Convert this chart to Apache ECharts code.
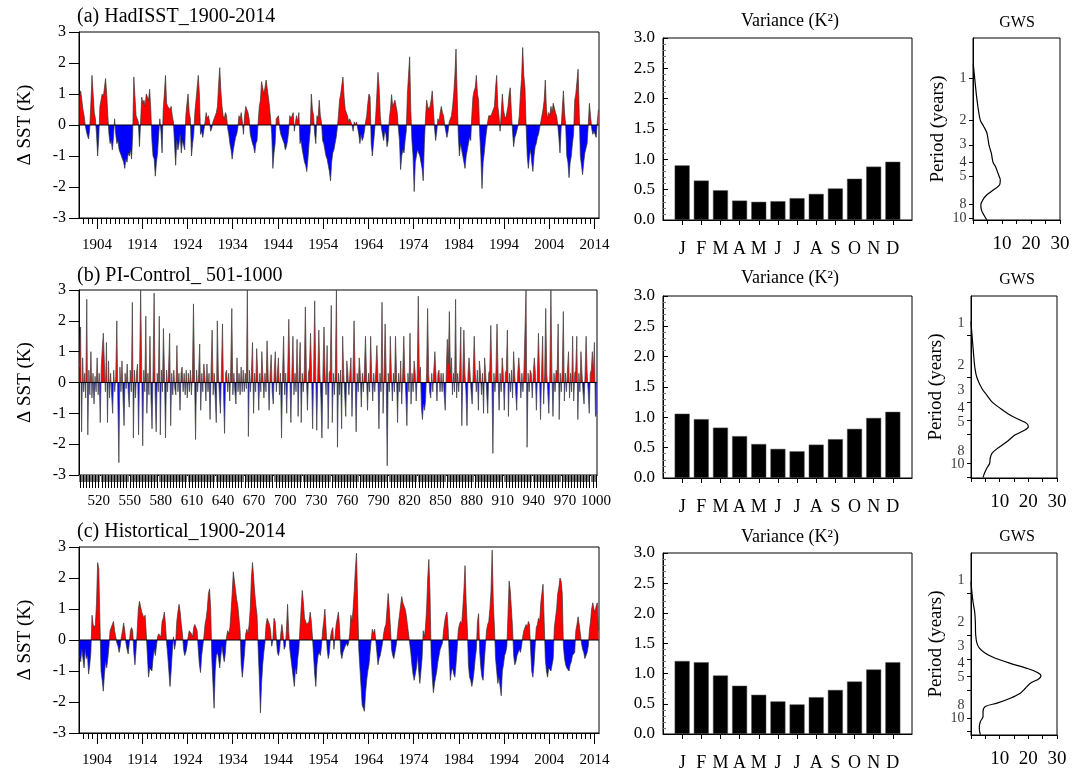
<!DOCTYPE html>
<html>
<head>
<meta charset="utf-8">
<title>SST variability</title>
<script src="https://cdn.jsdelivr.net/npm/echarts@6/dist/echarts.min.js"></script>
<style>
html, body { margin: 0; padding: 0; background: #fff; }
#chart { width: 1089px; height: 772px; }
</style>
</head>
<body>
<div id="chart"></div>
<script>
// ---------- data ----------
var months = ['J', 'F', 'M', 'A', 'M', 'J', 'J', 'A', 'S', 'O', 'N', 'D'];

// monthly variance (K^2)
var varHad  = [0.90, 0.65, 0.49, 0.32, 0.30, 0.31, 0.36, 0.43, 0.52, 0.68, 0.88, 0.96];
var varPi   = [1.06, 0.97, 0.83, 0.69, 0.56, 0.48, 0.44, 0.55, 0.64, 0.81, 0.99, 1.09];
var varHist = [1.21, 1.19, 0.97, 0.80, 0.65, 0.54, 0.49, 0.61, 0.73, 0.87, 1.07, 1.19];

// global wavelet spectrum: period (years) / power
var gwsHadPeriod = [0.8, 1.0, 1.43, 2.0, 2.21, 2.47, 3.0, 3.43, 4.0, 4.27, 4.9, 5.32, 5.78, 6.28, 6.81, 7.4, 8.03, 8.72, 9.46, 10.3];
var gwsHadPower  = [0.1, 0.57, 1.37, 2.5, 3.66, 4.8, 5.5, 6.3, 6.9, 7.7, 8.8, 9.4, 9.2, 7.1, 4.8, 3.4, 2.7, 2.9, 3.7, 4.8];
var gwsPiPeriod  = [0.8, 1.0, 1.38, 1.72, 2.0, 2.38, 2.65, 2.96, 3.29, 3.67, 3.98, 4.2, 4.44, 4.68, 5.08, 5.66, 6.31, 6.84, 7.4, 8.05, 8.7, 9.45, 10.1];
var gwsPiPower   = [0, 0.35, 0.92, 1.38, 2.08, 3.8, 5.5, 7.3, 10.2, 13.6, 17.1, 19.4, 20.0, 18.8, 15.3, 12.5, 9.2, 7.3, 6.7, 6.5, 5.5, 4.7, 4.2];
var gwsHistPeriod = [0.82, 1.0, 1.15, 1.36, 1.6, 2.0, 2.3, 2.5, 2.71, 2.95, 3.21, 3.49, 3.72, 3.94, 4.16, 4.47, 4.86, 5.28, 5.74, 6.23, 6.59, 7.16, 7.79, 8.46, 9.2, 10.0, 10.5];
var gwsHistPower  = [0, 0.35, 0.7, 1.28, 1.51, 1.63, 2.1, 3.0, 5.0, 8.5, 13.7, 19.5, 23.0, 24.4, 23.6, 20.7, 19.0, 17.2, 13.7, 9.1, 5.0, 4.2, 4.2, 3.3, 2.9, 3.0, 3.3];

// SST anomaly (K), 4 values a year from 1900 (HadISST, historical)
var sstHad = [
  0.9,1.1,0.8,0.5, 0.3,0.0,-0.2,-0.35, -0.45,-0.1,0.7,1.6, 1.0,0.4,0.2,-0.3, -1.0,-0.4,0.6,0.8,
  1.0,0.9,1.2,1.5, 1.0,0.3,-0.3,-0.6, -0.5,-0.8,-0.4,0.2, -0.3,-0.6,-0.5,-0.8, -0.9,-1.0,-1.1,-1.2,
  -1.4,-1.1,-1.2,-0.9, -1.0,-0.8,-1.1,-0.3, 1.55,0.9,0.3,0.2, 0.1,-0.7,0.1,0.9, 0.7,0.8,0.6,1.0,
  0.9,0.8,1.15,0.5, -0.5,-1.0,-1.1,-1.65, -1.2,-0.9,-0.3,0.2, -0.2,-0.9,0.5,1.0, 1.6,0.7,0.6,0.6,
  0.5,0.6,0.3,0.1, -0.6,-1.3,-0.5,-0.8, -0.6,-0.3,-0.9,-0.5, -0.5,-0.8,0.3,0.7, 1.0,0.4,0.2,-1.0,
  -0.6,-0.3,0.4,0.8, 1.2,1.6,1.0,-0.3, -0.2,-0.4,-0.4,0.1, 0.4,0.2,0.3,0.1, -0.2,-0.1,0.1,0.2,
  0.3,0.4,0.6,1.3, 1.85,1.1,0.6,0.3, 0.2,0.4,0.3,-0.1, -0.3,-0.6,-0.8,-1.1, -0.8,-0.6,-0.4,-0.3,
  -0.1,0.3,0.2,0.4, 0.1,-0.3,0.3,0.6, 0.6,0.4,0.2,-0.3, -0.3,-0.6,-0.7,-0.9, -0.6,-0.5,0.1,0.6,
  0.8,1.4,1.2,1.0, 1.2,1.45,1.4,0.9, 0.6,0.2,-0.3,-1.4, -0.9,-0.6,0.2,0.2, 0.3,-0.1,-0.3,-0.4,
  -0.5,-0.6,-0.8,-0.7, -0.5,-0.2,0.3,0.2, 0.3,0.4,-0.2,0.1, 0.3,0.1,0.4,-0.6, -0.5,-0.8,-1.0,-1.2,
  -1.3,-1.5,-1.1,-0.6, -0.2,1.0,0.5,0.3, -0.3,-0.6,0.3,0.2, 0.8,0.3,0.1,-0.5, -0.6,-0.8,-1.0,-1.1,
  -1.3,-1.5,-1.8,-1.2, -0.9,-0.8,-0.6,-0.4, -0.1,0.3,0.8,1.0, 1.0,1.55,0.9,0.5, 0.5,0.3,0.1,0.2,
  0.2,0.0,-0.2,0.1, 0.0,0.1,-0.1,-0.3, -0.6,-0.3,-0.5,-0.4, -0.2,0.1,0.3,0.7, 1.0,0.9,-0.6,-1.0,
  -0.6,-0.2,0.3,1.0, 1.7,1.2,0.3,-0.1, -0.3,-0.5,-0.2,-0.3, -0.7,-0.5,0.2,0.5, 0.98,0.6,0.6,0.8,
  0.6,0.4,-0.1,-0.5, -1.44,-1.0,-0.8,-0.9, -0.5,-0.2,1.0,1.6, 2.2,0.5,-0.5,-1.0, -2.15,-1.2,-1.0,-0.8,
  -0.8,-1.0,-1.2,-1.4, -1.8,-0.6,0.2,0.8, 0.6,0.5,0.6,0.8, 1.1,0.5,-0.1,-0.5, -0.2,0.2,0.1,0.4,
  0.6,0.4,0.3,0.0, -0.2,-0.4,-0.2,0.1, 0.1,0.3,0.6,1.0, 1.6,2.45,1.0,-0.3, -1.0,-0.6,-0.8,-1.0,
  -1.2,-1.4,-1.0,-0.8, -0.6,-0.4,-0.5,0.3, 0.9,1.1,1.2,1.6, 1.0,0.8,-0.3,-1.0, -2.05,-1.2,-0.9,-0.5,
  -0.2,0.1,0.3,0.3, 0.3,0.4,0.5,0.6, 1.2,1.6,0.6,0.3, -0.2,0.4,1.0,0.5, 0.3,0.2,0.4,0.6,
  1.0,1.2,0.4,-0.2, -0.7,-0.4,-0.3,-0.3, 0.0,0.3,1.0,1.5, 2.5,1.6,1.2,0.0, -1.0,-1.4,-1.0,-0.8,
  -1.2,-1.5,-1.0,-0.7, -0.6,-0.4,-0.3,-0.1, 0.1,0.3,0.5,0.8, 1.45,0.5,0.2,0.4, 0.3,0.6,0.4,0.7,
  0.76,0.4,0.3,0.0, -0.4,-0.9,-0.1,0.5, 1.1,0.4,0.0,-1.0, -1.2,-1.7,-1.2,-1.0, -0.6,-0.3,0.8,1.0,
  1.4,1.8,0.4,-1.0, -1.0,-1.6,-1.2,-0.9, -0.9,-0.6,0.0,0.7, 0.3,-0.1,-0.3,-0.2, -0.2,-0.4,0.1,0.5
];

var sstHist = [
  -0.5,-0.7,-0.3,-0.6, -0.9,-0.3,-0.6,-0.5, -1.1,-0.8,-0.4,0.8, 0.5,0.4,0.5,1.2, 2.5,2.3,0.6,-1.0,
  -1.3,-1.65,-1.1,-0.7, -0.9,-0.6,-0.2,0.3, 0.4,0.5,0.6,0.3, 0.25,-0.1,-0.2,-0.4, -0.2,0.1,0.3,0.55,
  0.3,-0.1,-0.3,-0.45, -0.1,0.3,0.4,0.3, -0.4,-0.8,-0.3,0.3, 1.0,1.25,1.3,0.9, 0.8,0.7,0.8,0.2,
  -0.5,-1.2,-0.9,-0.9, -1.0,-0.6,-0.3,-0.5, -0.5,0.1,0.2,0.25, 0.1,0.6,0.7,0.9, 0.5,-0.1,-0.5,-1.0,
  -1.5,-1.0,-0.4,0.1, -0.3,-0.1,0.6,0.9, 1.15,0.9,0.5,0.2, -0.3,-0.5,-0.4,-0.2, 0.1,0.3,0.3,0.2,
  0.1,0.4,0.5,0.5, 0.3,-0.3,-0.8,-1.05, -0.5,-0.2,0.1,0.5, 0.7,1.0,1.5,1.65, 1.0,-0.6,-1.4,-2.2,
  -1.0,-0.5,-0.4,-0.6, -0.9,-0.5,-0.2,-0.5, -0.7,-0.4,0.1,0.3, 0.2,0.4,0.9,1.5, 2.2,1.9,1.6,1.3,
  1.1,1.15,0.3,-0.8, -1.2,-0.8,-0.4,0.2, 0.35,0.2,0.5,1.0, 2.0,2.5,2.0,1.5, 1.1,0.8,-0.3,-1.2,
  -2.35,-1.4,-0.8,-0.4, -0.1,0.5,0.7,0.6, 0.5,0.3,-0.2,0.0, 0.7,0.6,0.1,-0.4, -0.5,-0.3,0.2,0.5,
  0.2,-0.3,-0.2,0.3, 1.15,0.3,-0.3,-0.6, -0.9,-1.2,-1.5,-0.9, -1.1,-0.6,-0.3,0.4, 1.0,1.6,1.2,0.7,
  0.6,0.5,0.5,0.6, 0.9,0.6,0.1,-0.5, -1.1,-1.5,-0.8,-0.5, -0.4,-0.5,-0.2,0.3, 0.6,1.0,0.4,-0.3,
  -0.6,-0.4,0.1,0.3, 0.4,-0.3,0.1,0.5, 0.7,0.9,0.4,-0.4, -0.6,-0.4,-0.3,-0.2, -0.1,-0.2,-0.1,0.2,
  0.8,0.6,1.0,1.6, 2.3,2.8,1.2,-0.3, -0.9,-1.5,-2.1,-2.2, -2.3,-1.7,-1.3,-1.0, -0.8,-0.4,0.0,0.35,
  0.2,0.35,0.0,-0.4, -0.8,-0.6,-0.5,-0.3, -0.1,0.2,0.4,0.5, 1.0,1.5,1.0,0.4, -0.3,-0.5,-0.6,-0.4,
  -0.2,0.1,0.5,0.8, 1.1,1.4,1.2,1.2, 1.0,0.8,0.5,0.2, -0.1,-0.4,-0.8,-1.1, -1.3,-1.1,-0.9,-0.5,
  -1.0,-1.4,-1.0,-0.6, 0.3,0.1,0.4,1.0, 2.0,2.6,1.5,-0.5, -1.2,-1.7,-1.4,-1.2, -1.0,-0.7,-0.5,-0.3,
  -0.2,-0.1,0.3,0.6, 0.8,0.9,0.4,-0.5, -1.3,-1.0,-0.9,-1.1, -1.2,-0.8,-0.3,0.3, 0.5,0.6,0.5,1.0,
  1.6,2.4,1.2,0.4, -0.8,-1.2,-1.3,-1.5, -1.3,-1.0,-0.6,-0.3, 0.6,0.85,-0.4,-0.9, -1.2,-1.3,-0.7,-0.2,
  0.3,0.5,0.6,1.0, 1.6,2.9,1.2,0.4, -0.6,-1.0,-1.4,-1.2, -1.5,-1.8,-1.0,-0.8, -0.5,-0.4,-0.2,0.8,
  1.9,1.6,1.0,0.4, -0.5,-0.8,-0.7,-0.5, -0.4,-0.3,-0.4,-0.2, 0.1,0.3,0.4,0.5, 0.4,0.6,0.5,-0.3,
  -1.0,-1.2,-0.8,-0.2, 0.4,0.5,0.7,0.6, 1.2,1.5,1.8,0.6, -0.6,-1.0,-1.2,-0.9, -0.9,-1.0,-0.8,-0.6,
  0.4,0.7,1.0,1.5, 1.7,2.0,1.9,1.5, -0.2,-0.6,-0.8,-0.9, -0.9,-1.0,-0.8,-0.7, -0.5,-0.5,-0.4,0.3,
  0.5,0.75,0.5,0.2, -0.1,-0.3,-0.4,-0.6, -0.6,-0.4,-0.2,0.3, 0.6,1.0,1.2,1.0, 0.9,1.1,1.2,0.3
];

// PI-control, one value a year from model year 501
var sstPi = [
  0.5,1.8,-1.6,0.8,-0.3,0.3,-0.5,2.7,-1.7,0.4,  -0.4,1.0,-0.5,0.3,-0.7,0.2,-0.3,0.8,-0.4,0.3,
  -1.3,0.5,1.1,1.6,0.6,-0.3,1.3,-1.3,0.7,-0.5,  0.3,-0.4,-1.0,0.4,-0.3,0.2,2.0,-0.6,-2.6,0.5,
  -0.3,0.7,-0.5,-1.4,0.3,-0.2,0.6,-0.3,-0.8,0.4,  -0.3,2.6,-1.8,0.4,-0.5,0.3,0.6,-1.7,0.4,3.0,
  0.5,-2.05,0.4,-0.3,2.15,-1.0,0.3,-0.4,1.5,-0.5,  -1.5,0.4,2.9,-0.4,-1.6,0.3,-0.3,2.15,-1.7,0.4,
  -0.3,1.75,0.3,-1.8,0.4,-0.3,0.5,1.6,-1.4,0.3,  -0.4,0.4,-0.2,-0.4,1.2,-0.3,0.3,-0.9,0.3,0.5,
  -0.3,0.3,-0.4,0.4,-0.5,0.3,-0.3,0.4,-0.4,0.3,  2.55,0.3,-1.85,0.4,-0.3,0.3,1.25,-0.9,0.3,-0.3,
  0.6,0.2,-0.6,0.6,-0.3,0.3,-1.2,0.4,1.7,-0.4,  0.3,-0.5,-1.3,2.0,0.3,-0.4,-1.0,0.4,1.9,-0.3,
  -1.65,0.3,0.4,-0.3,0.3,-0.6,0.5,2.4,-0.4,0.3,  -0.3,-0.7,0.8,-0.3,0.3,-0.4,0.5,-0.3,0.4,-0.3,
  0.3,-0.2,3.0,-1.75,0.4,-0.3,0.4,1.3,-1.0,0.3,  -0.3,1.1,0.3,-0.9,0.3,-0.3,1.0,0.2,-0.5,0.3,
  -0.3,1.35,0.3,-0.9,0.3,0.9,-0.3,-0.7,0.4,1.0,  -0.3,0.3,0.8,-0.4,0.3,-1.8,0.3,1.5,-0.4,0.3,
  -1.0,0.4,2.05,0.3,-1.3,0.3,1.5,-0.4,0.3,-0.3,  1.4,-1.1,0.4,1.3,-1.3,0.3,-0.3,0.4,2.45,0.3,
  -0.9,0.3,0.5,1.6,0.3,-1.5,0.4,2.65,0.3,-1.55,  0.3,1.7,0.3,-0.5,-1.8,0.4,1.8,0.3,-0.4,1.2,
  -1.5,0.3,0.4,2.5,-1.3,0.3,-0.4,0.5,3.0,-2.1,  0.3,-0.4,0.4,-1.5,1.5,0.3,-0.4,-1.1,0.7,0.3,
  -0.4,0.3,0.8,-1.1,0.3,2.0,0.3,-1.6,0.3,-0.3,  0.8,0.3,-0.8,0.3,-0.3,0.4,1.5,0.3,-0.9,0.3,
  -0.3,1.5,0.3,-0.6,0.3,-0.3,0.4,1.2,0.3,-1.5,  0.3,-0.3,2.6,-1.0,0.3,1.9,0.3,-2.7,0.3,-0.3,
  1.5,0.3,-0.6,0.3,-0.3,1.5,0.3,-1.3,0.3,-0.3,  0.7,-0.7,0.3,1.5,0.3,-0.4,-1.4,0.3,-0.3,1.6,
  -0.7,0.3,-0.3,0.7,0.3,-0.6,0.3,2.8,0.3,0.5,  -0.8,-1.2,-0.7,-0.9,-0.6,0.3,2.4,0.3,-0.3,-0.5,
  0.3,-0.3,0.4,1.0,0.3,-0.6,0.3,0.4,-0.3,0.3,  -0.3,0.3,-0.4,-0.9,0.3,1.4,0.6,2.3,0.3,0.8,
  -0.4,0.3,-0.3,2.7,-0.5,0.3,-0.3,0.4,1.8,-1.4,  0.3,1.7,0.3,-0.3,-1.4,0.3,0.8,0.3,-0.3,-0.7,
  0.3,1.5,0.3,-0.3,0.4,-0.9,0.7,0.3,-0.4,0.3,  -1.0,0.8,0.3,-0.3,-1.0,0.3,0.4,1.85,0.3,-2.3,
  0.3,-0.3,0.4,1.9,0.3,-0.9,0.3,-0.3,0.8,0.3,  -0.9,0.3,0.4,1.7,-1.1,0.3,-0.3,0.4,-0.5,1.0,
  0.3,-0.3,-0.9,0.3,0.8,0.3,-0.5,0.3,-0.3,0.4,  1.7,3.0,-2.1,0.3,-0.3,0.4,0.3,-0.5,0.3,0.8,
  0.3,-0.9,0.3,1.6,0.3,-1.2,0.3,1.5,-0.7,0.3,  2.4,0.3,-0.3,-1.0,0.3,3.0,0.3,-1.1,0.3,-0.3,
  0.4,0.3,1.9,-1.2,0.3,-0.3,0.4,2.3,-0.6,0.3,  -0.3,0.4,1.0,-0.5,0.3,-0.3,1.5,-0.6,0.3,0.4,
  1.5,-1.2,0.3,-0.3,1.0,0.3,-0.3,-0.7,0.3,1.5,  0.3,-0.3,-1.0,0.3,0.4,1.0,0.3,1.3,-1.1,-1.0
];

// tick labels
var decadeTicks = [1904, 1914, 1924, 1934, 1944, 1954, 1964, 1974, 1984, 1994, 2004, 2014];
var piLabels = [520, 550, 580, 610, 640, 670, 700, 730, 760, 790, 820, 850, 880, 910, 940, 970, 1000];
var periodTicks = [1, 2, 3, 4, 5, 8, 10];
var powerLabels = [10, 20, 30];
var monthPos = [1, 2, 3, 4, 5, 6, 7, 8, 9, 10, 11, 12];

// ---------- helpers ----------
function range(a, b, step) {
  var out = [];
  for (var v = a; v <= b; v += step) out.push(v);
  return out;
}
function series2d(vals, start, step) {
  return vals.map(function (v, i) { return [start + i * step, v]; });
}
function pairs(xs, ys) {
  return xs.map(function (x, i) { return [x, ys[i]]; });
}
function plain(v) { return String(v); }

var FONT = 'Liberation Serif';
var BLACK = '#000';

window.onload = function () {
  var chart = echarts.init(document.getElementById('chart'));

  var grids = [
    { left: 79, top: 32, width: 520, height: 186 },
    { left: 79, top: 290, width: 518, height: 185 },
    { left: 79, top: 547, width: 520, height: 186 },
    { left: 663, top: 38, width: 249, height: 182 },
    { left: 663, top: 296, width: 249, height: 182 },
    { left: 663, top: 553, width: 249, height: 182 },
    { left: 973, top: 38, width: 87, height: 182 },
    { left: 971, top: 296, width: 86, height: 182 },
    { left: 971, top: 553, width: 86, height: 182 }
  ].map(function (g) {
    g.show = true; g.borderColor = BLACK; g.borderWidth = 1; g.containLabel = false;
    return g;
  });

  function tickAxis(grid, min, max, ticks, len, color, labels, margin) {
    return {
      type: 'value', gridIndex: grid, min: min, max: max, position: 'bottom',
      axisLine: { show: true, onZero: false, lineStyle: { color: BLACK, width: 1 } },
      axisTick: { show: true, customValues: ticks, length: len, lineStyle: { color: color, width: 1 } },
      axisLabel: labels ? { show: true, customValues: labels, color: BLACK, fontSize: 15, fontFamily: FONT,
        margin: margin, formatter: plain, hideOverlap: false } : { show: false },
      splitLine: { show: false }
    };
  }

  var xAxes = [
    tickAxis(0, 1900, 2015, range(1901, 2014, 1), 6, BLACK, null),
    tickAxis(0, 1900, 2015, decadeTicks, 11, BLACK, decadeTicks, 20),
    tickAxis(1, 501, 1001, range(501, 1000, 1), 7, '#777', null),
    tickAxis(1, 501, 1001, range(502, 1000, 3), 13, BLACK, piLabels, 19),
    tickAxis(2, 1900, 2015, range(1901, 2014, 1), 6, BLACK, null),
    tickAxis(2, 1900, 2015, decadeTicks, 11, BLACK, decadeTicks, 20)
  ];
  [3, 4, 5].forEach(function (g) {
    xAxes.push({
      type: 'value', gridIndex: g, min: 0, max: 13,
      axisLine: { show: true, lineStyle: { color: BLACK } },
      axisTick: { show: true, customValues: monthPos, length: 5, lineStyle: { color: BLACK } },
      axisLabel: {
        customValues: monthPos, color: BLACK, fontSize: 18, fontFamily: FONT, margin: 20, hideOverlap: false,
        formatter: function (v) { return months[Math.round(v) - 1]; }
      },
      splitLine: { show: false }
    });
  });
  [6, 7, 8].forEach(function (g) {
    xAxes.push({
      type: 'value', gridIndex: g, min: 0, max: 30, interval: 5,
      axisLine: { show: true, lineStyle: { color: BLACK } },
      axisTick: { show: true, length: 4, lineStyle: { color: BLACK } },
      axisLabel: { customValues: powerLabels, color: BLACK, fontSize: 19, fontFamily: FONT, margin: 15, hideOverlap: false },
      splitLine: { show: false }
    });
  });

  var yAxes = [];
  [0, 1, 2].forEach(function (g) {
    yAxes.push({
      type: 'value', gridIndex: g, min: -3, max: 3, interval: 1,
      axisLine: { show: true, lineStyle: { color: BLACK } },
      axisTick: { show: true, length: 10, lineStyle: { color: BLACK } },
      axisLabel: { color: BLACK, fontSize: 16, fontFamily: FONT, margin: 13 },
      splitLine: { show: false },
      name: 'Δ SST (K)', nameLocation: 'middle', nameGap: 44,
      nameTextStyle: { color: BLACK, fontSize: 19, fontFamily: FONT }
    });
  });
  [3, 4, 5].forEach(function (g) {
    yAxes.push({
      type: 'value', gridIndex: g, min: 0, max: 3, interval: 0.5,
      axisLine: { show: true, lineStyle: { color: BLACK } },
      axisTick: { show: true, inside: true, length: 5, lineStyle: { color: BLACK } },
      minorTick: { show: true, splitNumber: 5, length: 3, lineStyle: { color: '#777' } },
      axisLabel: { color: BLACK, fontSize: 17, fontFamily: FONT, margin: 8,
        formatter: function (v) { return v.toFixed(1); } },
      splitLine: { show: false }
    });
  });
  var logRange = [[0.52, 10.3], [0.53, 10.2], [0.51, 10.6]];
  [6, 7, 8].forEach(function (g, k) {
    yAxes.push({
      type: 'log', logBase: 10, gridIndex: g, inverse: true,
      min: logRange[k][0], max: logRange[k][1],
      axisLine: { show: true, lineStyle: { color: BLACK } },
      axisTick: { show: true, customValues: periodTicks, length: 4, lineStyle: { color: BLACK } },
      axisLabel: { show: false },
      splitLine: { show: false },
      name: 'Period (years)', nameLocation: 'middle', nameGap: 25,
      nameTextStyle: { color: BLACK, fontSize: 19, fontFamily: FONT }
    });
  });

  var tsData = [
    series2d(sstHad, 1900.125, 0.25),
    series2d(sstPi, 501.5, 1),
    series2d(sstHist, 1900.125, 0.25)
  ];
  var tsX = [1, 3, 5];

  var series = [];
  // filled areas (coloured by sign through visualMap)
  tsData.forEach(function (d, k) {
    series.push({
      type: 'line', xAxisIndex: tsX[k], yAxisIndex: k, data: d,
      showSymbol: false, silent: true, animation: false,
      lineStyle: { width: 0 }, areaStyle: { opacity: 1 }
    });
  });
  // dark outline
  tsData.forEach(function (d, k) {
    series.push({
      type: 'line', xAxisIndex: tsX[k], yAxisIndex: k, data: d,
      showSymbol: false, silent: true, animation: false,
      lineStyle: k === 1 ? { color: 'rgba(70,70,70,0.75)', width: 1 } : { color: 'rgba(50,50,50,0.85)', width: 0.8 }
    });
  });
  // zero lines
  [0, 1, 2].forEach(function (k) {
    series.push({
      type: 'line', xAxisIndex: tsX[k], yAxisIndex: k, silent: true, animation: false,
      showSymbol: false, lineStyle: { color: BLACK, width: 1 },
      data: k === 1 ? [[501, 0], [1001, 0]] : [[1900, 0], [2015, 0]]
    });
  });
  [varHad, varPi, varHist].forEach(function (v, k) {
    series.push({
      type: 'bar', xAxisIndex: 6 + k, yAxisIndex: 3 + k,
      data: pairs(monthPos, v), barWidth: 15, animation: false,
      itemStyle: { color: BLACK, borderColor: '#555', borderWidth: 0.5 }
    });
  });
  [[gwsHadPower, gwsHadPeriod], [gwsPiPower, gwsPiPeriod], [gwsHistPower, gwsHistPeriod]].forEach(function (p, k) {
    series.push({
      type: 'line', xAxisIndex: 9 + k, yAxisIndex: 6 + k,
      data: pairs(p[0], p[1]), showSymbol: false, smooth: 0.3, animation: false,
      lineStyle: { color: BLACK, width: 1.2 }
    });
  });
  // period tick labels, placed on the log axis; the lower two sit a little above their ticks as in the original
  var labelLift = [0, -12, -13];
  [0, 1, 2].forEach(function (k) {
    series.push({
      type: 'scatter', xAxisIndex: 9 + k, yAxisIndex: 6 + k, clip: false, silent: true, animation: false,
      symbol: 'circle', symbolSize: 1, itemStyle: { color: 'rgba(0,0,0,0)' },
      data: periodTicks.map(function (p) { return [0, p]; }),
      label: {
        show: true, position: 'left', distance: 6,
        color: BLACK, fontSize: 14, fontFamily: FONT,
        formatter: function (p) { return String(p.value[1]); }
      },
      labelLayout: { hideOverlap: false, dy: labelLift[k] }
    });
  });

  var visualMaps = [0, 1, 2].map(function (k) {
    return {
      show: false, type: 'piecewise', seriesIndex: k, dimension: 1,
      pieces: [{ gt: -10, lt: 0, color: '#0000ff' }, { gte: 0, lt: 10, color: '#ff0000' }]
    };
  });

  function label(x, y, text, size, align) {
    return {
      type: 'text', x: x, y: y, silent: true,
      style: { text: text, fill: BLACK, font: size + 'px "' + FONT + '"', textAlign: align, textVerticalAlign: 'middle' }
    };
  }

  var option = {
    animation: false,
    textStyle: { fontFamily: FONT },
    grid: grids,
    xAxis: xAxes,
    yAxis: yAxes,
    visualMap: visualMaps,
    series: series,
    graphic: [
      label(77, 17, '(a) HadISST_1900-2014', 20, 'left'),
      label(77, 276, '(b) PI-Control_ 501-1000', 20, 'left'),
      label(77, 532, '(c) Histortical_1900-2014', 20, 'left'),
      label(790, 21, 'Variance (K²)', 18, 'center'),
      label(790, 278, 'Variance (K²)', 18, 'center'),
      label(790, 537, 'Variance (K²)', 18, 'center'),
      label(1017, 23, 'GWS', 16, 'center'),
      label(1017, 280, 'GWS', 16, 'center'),
      label(1017, 537, 'GWS', 16, 'center')
    ]
  };

  chart.setOption(option);
  window.addEventListener('resize', function () { chart.resize(); });
};
</script>
</body>
</html>
